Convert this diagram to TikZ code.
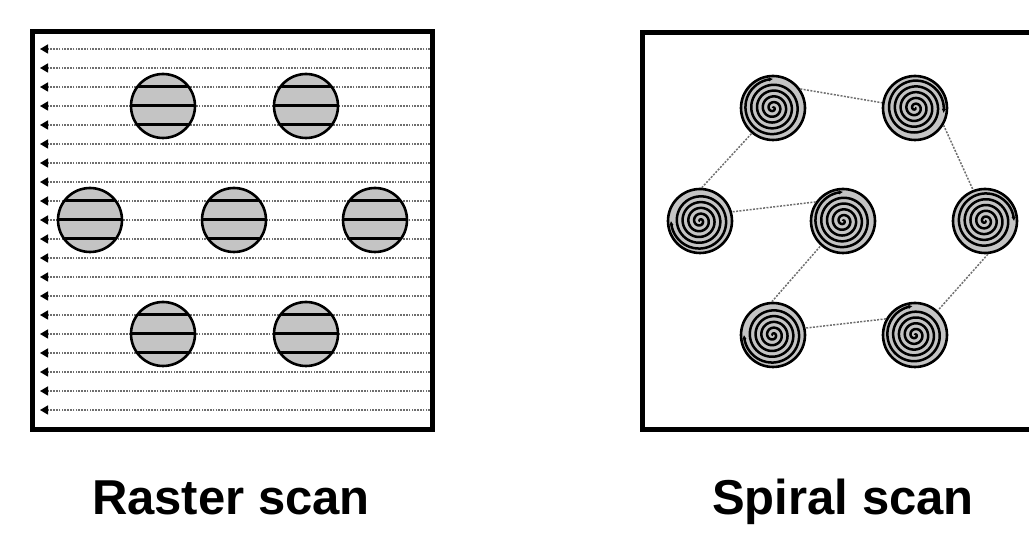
\documentclass[tikz,border=0pt]{standalone}
\usepackage{fontspec}
\setmainfont{Liberation Sans}
\usepackage{tikz}
\usetikzlibrary{arrows.meta,positioning,calc}
\definecolor{discgray}{RGB}{196,196,196}
\definecolor{scangray}{RGB}{110,110,110}

\tikzset{
    frame/.style={line width=5pt},
    disc/.style={circle,draw=black,line width=2.6pt,fill=discgray,minimum size=64pt,inner sep=0pt},
    scanline/.style={scangray,line width=1.4pt,dash pattern=on 1.6pt off 1.2pt,-{Triangle[black,length=8pt,width=9pt]}},
    chord/.style={black,line width=3pt},
    hop/.style={scangray,line width=1.5pt,dash pattern=on 2pt off 1.4pt},
    coil/.style={black,line width=2.5pt},
    caption/.style={font=\fontsize{49}{58}\selectfont\bfseries,anchor=base}
}

\begin{document}
\begin{tikzpicture}[x=1pt,y=-1pt]
    \useasboundingbox (0,0) rectangle (1029,534);

    % raster scan
    \foreach \i in {0,...,19} {
        \draw[scanline] (430,{49+19*\i}) -- (40,{49+19*\i});
    }
    \node[disc] (r1) at (163,106) {};
    \node[disc] (r2) at (306,106) {};
    \node[disc] (r3) at (90,220) {};
    \node[disc] (r4) at (234,220) {};
    \node[disc] (r5) at (375,220) {};
    \node[disc] (r6) at (163,334) {};
    \node[disc] (r7) at (306,334) {};
    \foreach \r in {r1,r2,r3,r4,r5,r6,r7} {
        \begin{scope}
            \clip (\r.center) circle (31);
            \foreach \i in {0,...,19} {
                \draw[chord] (32,{49+19*\i}) -- (432,{49+19*\i});
            }
        \end{scope}
    }
    \draw[frame] (32,32) rectangle (432,430);

    % spiral scan
    \node[disc] (s1) at (773,108) {};
    \node[disc] (s2) at (915,108) {};
    \node[disc] (s3) at (700,221) {};
    \node[disc] (s4) at (843,221) {};
    \node[disc] (s5) at (985,221) {};
    \node[disc] (s6) at (773,335) {};
    \node[disc] (s7) at (915,335) {};
    \foreach \s/\a in {s1/-90,s2/10,s3/-180,s4/-90,s5/0,s6/180,s7/-95} {
        \begin{scope}[shift={(\s.center)}]
            \draw[coil,-{Latex[length=4pt,width=4.5pt]}] plot[domain=0:1800,samples=260,variable=\t]
                ({\t/1800*29*cos(\t+\a-1800)},{\t/1800*29*sin(\t+\a-1800)});
        \end{scope}
    }
    \draw[hop] (s1.35) -- (s2.171);
    \draw[hop] (s2.-31) -- (s5.111);
    \draw[hop] (s5.-85) -- (s7.47);
    \draw[hop] (s7.151) -- (s6.12);
    \draw[hop] (s6.92) -- (s4.-132);
    \draw[hop] (s4.145) -- (s3.16);
    \draw[hop] (s3.87) -- (s1.-130);
    \draw[frame] (1040,33) -- (642,33) -- (642,430) -- (1040,430);

    \node[caption] (rastertitle) at (231,515) {Raster scan};
    \node[caption] (spiraltitle) at (843,515) {Spiral scan};
\end{tikzpicture}
\end{document}
